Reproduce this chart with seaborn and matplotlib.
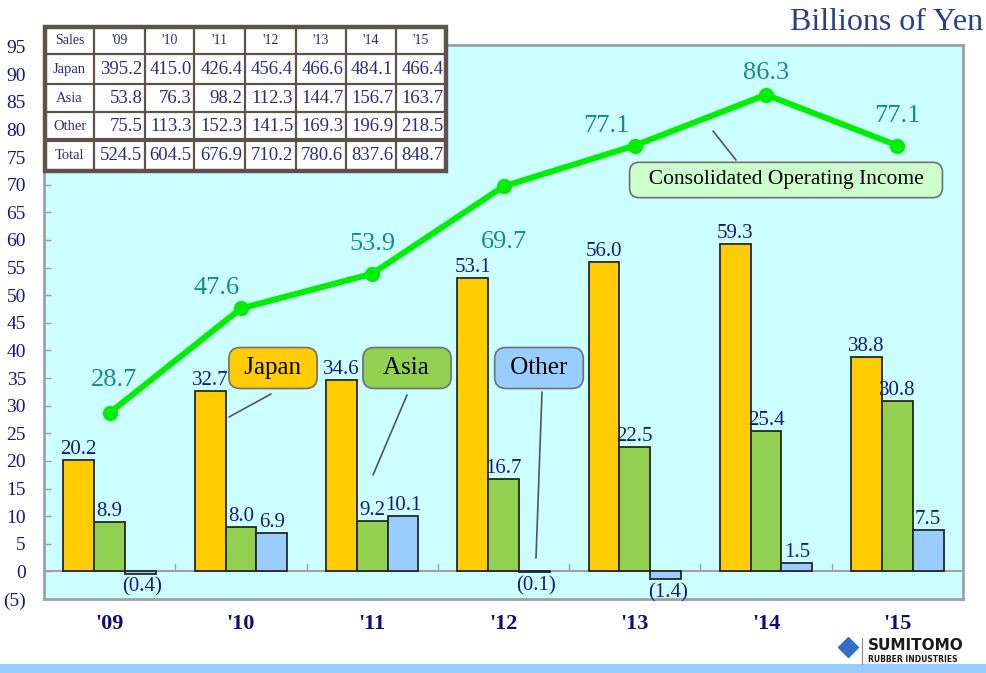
import matplotlib
matplotlib.use("Agg")
import matplotlib.pyplot as plt
from matplotlib.patches import Rectangle
from matplotlib.lines import Line2D
import seaborn as sns
import pandas as pd

# ---- data (billions of yen) ----
years = ["'09", "'10", "'11", "'12", "'13", "'14", "'15"]
regions = ["Japan", "Asia", "Other"]
japan_oi = [20.2, 32.7, 34.6, 53.1, 56.0, 59.3, 38.8]
asia_oi = [8.9, 8.0, 9.2, 16.7, 22.5, 25.4, 30.8]
other_oi = [-0.4, 6.9, 10.1, -0.1, -1.4, 1.5, 7.5]
consolidated_oi = [28.7, 47.6, 53.9, 69.7, 77.1, 86.3, 77.1]

japan_sales = [395.2, 415.0, 426.4, 456.4, 466.6, 484.1, 466.4]
asia_sales = [53.8, 76.3, 98.2, 112.3, 144.7, 156.7, 163.7]
other_sales = [75.5, 113.3, 152.3, 141.5, 169.3, 196.9, 218.5]
total_sales = [524.5, 604.5, 676.9, 710.2, 780.6, 837.6, 848.7]

y_ticks = list(range(-5, 100, 5))

region_colors = {"Japan": "#FFCC00", "Asia": "#92D050", "Other": "#99CCFF"}
NAVY = "#16168A"
TEAL = "#148A8A"
SERIF = ["Liberation Serif", "DejaVu Serif"]

sns.set_theme(style="white")
plt.rcParams["font.family"] = SERIF

W, H = 986, 673
fig = plt.figure(figsize=(W / 100, H / 100), dpi=100)
fig.patch.set_facecolor("white")


def fx(px):
    return px / W


def fy(py):
    return 1 - py / H


ax = fig.add_axes([fx(44), fy(599), fx(963) - fx(44), fy(45) - fy(599)])
ax.set_facecolor("#CCFFFF")

df = pd.DataFrame({
    "year": years * 3,
    "region": ["Japan"] * 7 + ["Asia"] * 7 + ["Other"] * 7,
    "value": japan_oi + asia_oi + other_oi,
})

sns.barplot(data=df, x="year", y="value", hue="region", order=years,
            hue_order=regions, palette=region_colors, width=0.705,
            edgecolor="#262626", linewidth=1.3, saturation=1, ax=ax,
            legend=False, zorder=3)


def fmt(v):
    return f"({abs(v):.1f})" if v < 0 else f"{v:.1f}"


# bar value labels
for container in ax.containers:
    for bar in container:
        v = bar.get_height()
        xc = bar.get_x() + bar.get_width() / 2
        if v >= 0:
            ax.annotate(fmt(v), (xc, v), xytext=(0, 1), textcoords="offset pixels",
                        ha="center", va="bottom", fontsize=15, color=NAVY, zorder=6)
        else:
            ax.annotate(fmt(v), (xc, v), xytext=(2, -4), textcoords="offset pixels",
                        ha="center", va="top", fontsize=15, color=NAVY, zorder=6)

# consolidated operating income line
line_df = pd.DataFrame({"pos": list(range(len(years))), "value": consolidated_oi})
sns.lineplot(data=line_df, x="pos", y="value", color="#00EE00", linewidth=4.3,
             marker="o", markersize=11, markeredgewidth=0, ax=ax, zorder=5)

label_offsets = [(4, 33), (-24, 20), (0, 30), (0, -56), (-28, 20), (0, 22), (0, 30)]
for i, (v, off) in enumerate(zip(consolidated_oi, label_offsets)):
    ax.annotate(f"{v:.1f}", (i, v), xytext=off, textcoords="offset pixels",
                ha="center", va="center", fontsize=19, color=TEAL, zorder=6)

# axes cosmetics
ax.set_xlim(-0.5, len(years) - 0.5)
ax.set_ylim(-4.8, 95.3)
ax.set_yticks(y_ticks)
ax.set_yticklabels([f"({abs(t)})" if t < 0 else str(t) for t in y_ticks])
ax.tick_params(axis="y", direction="in", length=5, width=1, color="#999999",
               labelsize=14, labelcolor=NAVY, pad=13, left=True)
ax.tick_params(axis="x", length=0, pad=11)
for lab in ax.get_xticklabels():
    lab.set_fontweight("bold")
    lab.set_fontsize(16)
    lab.set_color("#0C0C7A")
ax.set_xlabel("")
ax.set_ylabel("")
for s in ax.spines.values():
    s.set_color("#A0A0A0")
    s.set_linewidth(2)
ax.grid(False)

# zero line with separators between years
ax.axhline(0, color="#A0A0A0", linewidth=1.5, zorder=2)
for b in range(1, len(years)):
    ax.plot([b - 0.5, b - 0.5], [0, 1.3], color="#A0A0A0", linewidth=1, zorder=2)

# callout boxes
def callout(text, center, line_from, line_to, face, size=18):
    fig.text(fx(center[0]), fy(center[1]), text, ha="center", va="center",
             fontsize=size, color="black", zorder=10,
             bbox=dict(boxstyle="round,pad=0.38,rounding_size=0.45", fc=face,
                       ec="#707070", lw=1.2))
    fig.add_artist(Line2D([fx(line_from[0]), fx(line_to[0])],
                          [fy(line_from[1]), fy(line_to[1])],
                          color="#555555", lw=1.2, zorder=9))


callout(" Japan ", (273, 368), (271, 394), (229, 417), region_colors["Japan"])
callout("  Asia  ", (407, 368), (407, 395), (373, 475), region_colors["Asia"])
callout(" Other ", (539, 368), (542, 392), (536, 558), region_colors["Other"])
callout("  Consolidated Operating Income  ", (786, 180), (713, 131), (736, 160),
        "#CCFFCC", size=15.5)

# sales table
tab = fig.add_axes([fx(45), fy(171), fx(446) - fx(45), fy(27) - fy(171)])
tab.set_xlim(0, 401)
tab.set_ylim(144, 0)
tab.axis("off")
col_edges = [0, 49.3, 100, 149.3, 200, 250.7, 300.7, 350.7, 401]
row_edges = [0, 27.3, 57.3, 85.3, 113, 144]
tab.add_patch(Rectangle((0, 0), 401, 144, fc="white", ec="none", zorder=0))
GRID = "#5E534C"
for x in col_edges[1:-1]:
    tab.plot([x, x], [0, 144], color=GRID, lw=1.6, zorder=2)
for y in row_edges[1:-1]:
    tab.plot([0, 401], [y, y], color=GRID, lw=3 if y == 113 else 1.6, zorder=2)
tab.add_patch(Rectangle((0, 0), 401, 144, fc="none", ec=GRID, lw=3.2, zorder=3,
                        clip_on=False))

header = ["Sales"] + years
row_names = ["Japan", "Asia", "Other", "Total"]
rows = [japan_sales, asia_sales, other_sales, total_sales]
TCOL = "#2A2A80"
for j, h in enumerate(header):
    cx = (col_edges[j] + col_edges[j + 1]) / 2
    tab.text(cx, row_edges[0] + 14, h, ha="center", va="center", fontsize=10, color=TCOL)
for i, (name, vals) in enumerate(zip(row_names, rows)):
    cy = (row_edges[i + 1] + row_edges[i + 2]) / 2
    tab.text(col_edges[1] / 2, cy, name, ha="center", va="center", fontsize=10.5, color=TCOL)
    for j, v in enumerate(vals):
        tab.text(col_edges[j + 2] - 2.5, cy, f"{v:.1f}", ha="right", va="center",
                 fontsize=13.5, color=TCOL)

# unit title
fig.text(fx(983), fy(22), "Billions of Yen", ha="right", va="center",
         fontsize=23, color="#27408B")

# footer: company mark and band
fig.add_artist(Line2D([fx(848)], [fy(647)], marker="D", markersize=10,
                      color="#2E6FC8", linestyle="none"))
fig.add_artist(Line2D([fx(862), fx(862)], [fy(638), fy(664)], color="#888888", lw=0.8))
fig.text(fx(868), fy(646), "SUMITOMO", ha="left", va="center", fontsize=11,
         fontweight="bold", color="#1A1A1A", family=["Liberation Sans Narrow", "DejaVu Sans"])
fig.text(fx(868), fy(659), "RUBBER INDUSTRIES", ha="left", va="center", fontsize=5.5,
         fontweight="bold", color="#1A1A1A", family=["Liberation Sans Narrow", "DejaVu Sans"])
fig.add_artist(Rectangle((0, 0), 1, fy(664), transform=fig.transFigure,
                         fc="#99CCFF", ec="none"))

fig.savefig("out.png", dpi=100)
